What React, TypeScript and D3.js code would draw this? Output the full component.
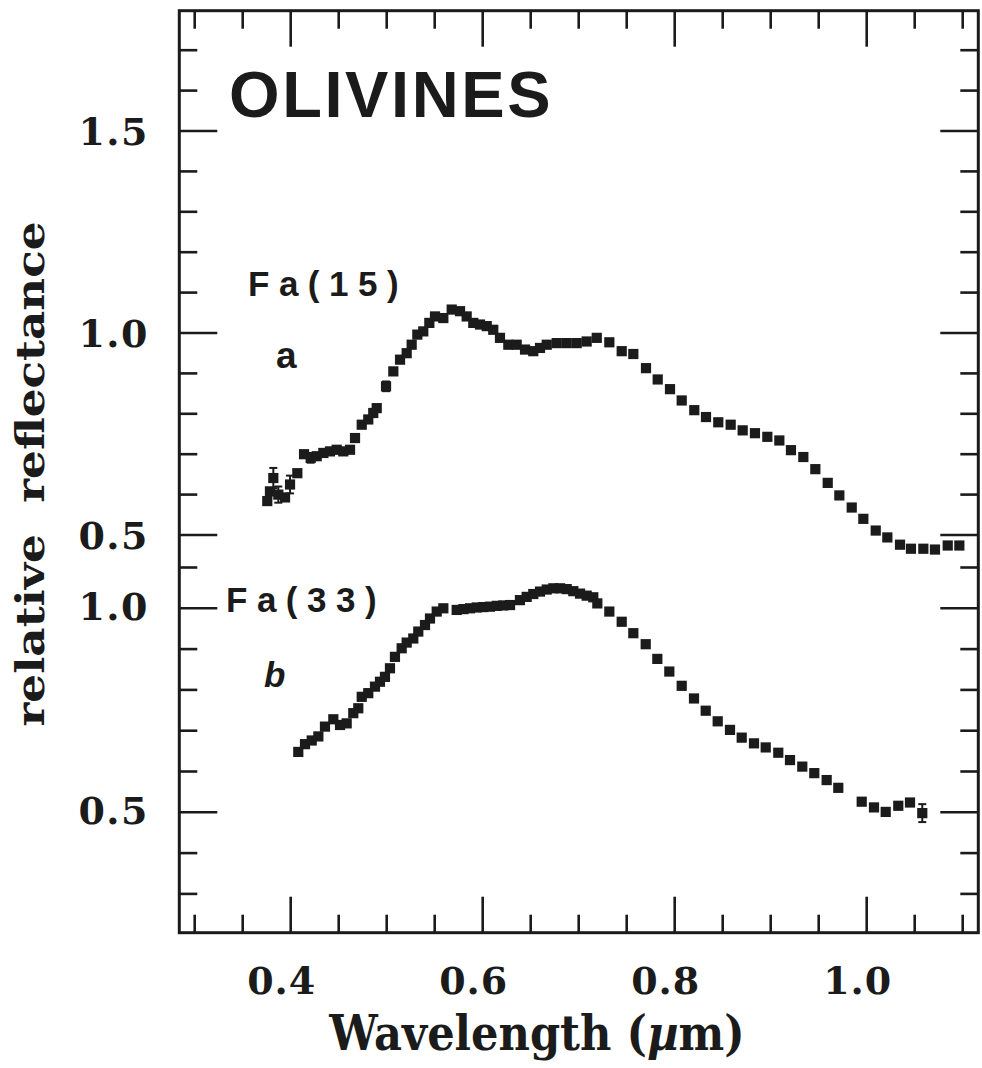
import React from "react";
import * as d3 from "d3";

// ---- Data ----
const fa15Wavelength = [
  0.3756, 0.3784, 0.3819, 0.3871, 0.3941, 0.3993, 0.4069, 0.4139, 0.4208, 0.4271,
  0.434, 0.4409, 0.4479, 0.4548, 0.4618, 0.467, 0.474, 0.4808, 0.486, 0.4896,
  0.4993, 0.5069, 0.5139, 0.5208, 0.526, 0.5319, 0.5381, 0.5444, 0.5503, 0.559,
  0.5677, 0.5764, 0.5833, 0.5902, 0.5972, 0.6042, 0.611, 0.618, 0.6267, 0.6354,
  0.6441, 0.6527, 0.6597, 0.6667, 0.6771, 0.6875, 0.6979, 0.7083, 0.7188, 0.7319,
  0.7448, 0.7569, 0.7701, 0.7823, 0.7951, 0.8073, 0.8204, 0.8326, 0.8454, 0.8583,
  0.8708, 0.8836, 0.8965, 0.909, 0.9211, 0.934, 0.9465, 0.9594, 0.9715, 0.9844,
  0.9965, 1.0094, 1.0215, 1.0347, 1.0461, 1.059, 1.0711, 1.0844, 1.0965,
];
const fa15Reflectance = [
  0.584, 0.608, 0.641, 0.6, 0.593, 0.625, 0.653, 0.7, 0.691, 0.695,
  0.703, 0.707, 0.711, 0.707, 0.711, 0.74, 0.773, 0.786, 0.802, 0.814,
  0.868, 0.905, 0.934, 0.95, 0.971, 0.996, 1.004, 1.025, 1.041, 1.037,
  1.058, 1.054, 1.041, 1.025, 1.021, 1.017, 1.008, 0.988, 0.971, 0.971,
  0.959, 0.955, 0.963, 0.971, 0.975, 0.975, 0.975, 0.979, 0.988, 0.977,
  0.955, 0.948, 0.913, 0.885, 0.861, 0.833, 0.809, 0.792, 0.779, 0.773,
  0.759, 0.752, 0.743, 0.734, 0.71, 0.693, 0.663, 0.629, 0.598, 0.568,
  0.54, 0.511, 0.494, 0.476, 0.466, 0.466, 0.464, 0.474, 0.474,
];
// error-bar half-lengths (only a few points carry visible bars)
const fa15ErrWavelength = [0.3819, 0.3871, 0.3993, 0.4208, 0.434, 0.486, 0.4993];
const fa15ErrValue = [0.641, 0.6, 0.625, 0.691, 0.703, 0.802, 0.868];
const fa15ErrSize = [0.025, 0.02, 0.022, 0.012, 0.01, 0.01, 0.012];

const fa33Wavelength = [
  0.4079, 0.4149, 0.4219, 0.4288, 0.4357, 0.4444, 0.4514, 0.4583, 0.4652, 0.4704,
  0.474, 0.4808, 0.4878, 0.493, 0.4982, 0.5034, 0.5086, 0.5156, 0.5208, 0.5277,
  0.5329, 0.5399, 0.5451, 0.5521, 0.559, 0.5729, 0.5799, 0.5868, 0.5938, 0.6007,
  0.6076, 0.6146, 0.6215, 0.6285, 0.6388, 0.6458, 0.6527, 0.6597, 0.6667, 0.6736,
  0.6806, 0.6875, 0.6944, 0.7014, 0.7083, 0.7152, 0.7194, 0.7319, 0.7448, 0.7569,
  0.7698, 0.7819, 0.7944, 0.8073, 0.8201, 0.8323, 0.8448, 0.8576, 0.8698, 0.8826,
  0.8948, 0.9079, 0.9201, 0.9329, 0.9454, 0.9583, 0.9704, 0.9948, 1.0076, 1.0198,
  1.0329, 1.0451, 1.0579,
];
const fa33Reflectance = [
  0.648, 0.667, 0.676, 0.686, 0.71, 0.728, 0.714, 0.718, 0.743, 0.755,
  0.783, 0.792, 0.808, 0.82, 0.832, 0.853, 0.881, 0.902, 0.916, 0.926,
  0.943, 0.959, 0.975, 0.992, 1.0, 0.996, 0.998, 1.0, 1.002, 1.003,
  1.004, 1.006, 1.007, 1.008, 1.02, 1.028, 1.035, 1.041, 1.046, 1.049,
  1.049, 1.047, 1.042, 1.036, 1.031, 1.027, 1.012, 0.992, 0.967, 0.939,
  0.912, 0.876, 0.845, 0.81, 0.779, 0.749, 0.723, 0.702, 0.683, 0.669,
  0.659, 0.646, 0.628, 0.612, 0.596, 0.579, 0.56, 0.526, 0.512, 0.501,
  0.516, 0.524, 0.498,
];
const fa33ErrWavelength = [1.0579];
const fa33ErrValue = [0.498];
const fa33ErrSize = [0.022];

const xMajorTicks = [0.4, 0.6, 0.8, 1.0];
const xMinorTicks = [0.3, 0.35, 0.45, 0.5, 0.55, 0.65, 0.7, 0.75, 0.85, 0.9, 0.95, 1.05, 1.1];
const xTickLabels = ["0.4", "0.6", "0.8", "1.0"];

const upperMajorTicks = [0.5, 1.0, 1.5];
const upperMinorTicks = [0.6, 0.7, 0.8, 0.9, 1.1, 1.2, 1.3, 1.4, 1.6, 1.7];
const upperTickLabels = ["0.5", "1.0", "1.5"];
const lowerMajorTicks = [0.5, 1.0];
const lowerMinorTicks = [0.3, 0.4, 0.6, 0.7, 0.8, 0.9, 1.1];
const lowerTickLabels = ["0.5", "1.0"];

const titleText = "OLIVINES";
const seriesNames = ["Fa(15)", "Fa(33)"];
const seriesLetters = ["a", "b"];
const xTitleParts = ["Wavelength (", "µ", "m)"];
const yTitle = "relative  reflectance";

// ---- Layout ----
const W = 982;
const H = 1068;
const frame = { left: 179.3, right: 978.3, top: 10.7, bottom: 932.7 };
const INK = "#1b1b1b";
const serif = "'DejaVu Serif', 'Liberation Serif', serif";
const sans = "'Liberation Sans', Arial, Helvetica, sans-serif";

export default function App() {
  const x = d3.scaleLinear().domain([0.4, 1.0]).range([290.7, 866.7]);
  const yU = d3.scaleLinear().domain([0.5, 1.5]).range([535, 131]);
  const yL = d3.scaleLinear().domain([0.5, 1.0]).range([812.3, 608.3]);

  const MAJ = 36;
  const MIN = 18;
  const sq = 10.2;

  const xTickEls: React.ReactNode[] = [];
  xMajorTicks.forEach((t, i) => {
    const px = x(t);
    xTickEls.push(<line key={"xbM" + i} x1={px} x2={px} y1={frame.bottom} y2={frame.bottom - MAJ} />);
    xTickEls.push(<line key={"xtM" + i} x1={px} x2={px} y1={frame.top} y2={frame.top + MAJ} />);
  });
  xMinorTicks.forEach((t, i) => {
    const px = x(t);
    xTickEls.push(<line key={"xbm" + i} x1={px} x2={px} y1={frame.bottom} y2={frame.bottom - MIN} />);
    xTickEls.push(<line key={"xtm" + i} x1={px} x2={px} y1={frame.top} y2={frame.top + MIN} />);
  });

  const yTickEls: React.ReactNode[] = [];
  const addY = (py: number, len: number, key: string) => {
    yTickEls.push(<line key={"l" + key} x1={frame.left} x2={frame.left + len} y1={py} y2={py} />);
    yTickEls.push(<line key={"r" + key} x1={frame.right} x2={frame.right - len} y1={py} y2={py} />);
  };
  upperMajorTicks.forEach((t, i) => addY(yU(t), MAJ + 2, "uM" + i));
  upperMinorTicks.forEach((t, i) => addY(yU(t), MIN, "um" + i));
  lowerMajorTicks.forEach((t, i) => addY(yL(t), MAJ + 2, "lM" + i));
  lowerMinorTicks.forEach((t, i) => addY(yL(t), MIN, "lm" + i));

  const markers = (ws: number[], vs: number[], y: d3.ScaleLinear<number, number>, key: string) =>
    ws.map((w, i) => (
      <rect
        key={key + i}
        x={x(w) - sq / 2}
        y={y(vs[i]) - sq / 2}
        width={sq}
        height={sq}
        fill={INK}
      />
    ));

  const errbars = (ws: number[], vs: number[], es: number[], y: d3.ScaleLinear<number, number>, key: string) =>
    ws.map((w, i) => {
      const px = x(w);
      const y1 = y(vs[i] + es[i]);
      const y2 = y(vs[i] - es[i]);
      return (
        <g key={key + i} stroke={INK} strokeWidth={2}>
          <line x1={px} x2={px} y1={y1} y2={y2} />
          <line x1={px - 4} x2={px + 4} y1={y1} y2={y1} />
          <line x1={px - 4} x2={px + 4} y1={y2} y2={y2} />
        </g>
      );
    });

  const yLabelX = 149;
  const yLabelFont = 38;

  return (
    <svg
      width={W}
      height={H}
      viewBox={`0 0 ${W} ${H}`}
      style={{ position: "absolute", left: 0, top: 0, background: "#ffffff" }}
    >
      <rect x={0} y={0} width={W} height={H} fill="#ffffff" />
      {/* frame */}
      <rect
        x={frame.left}
        y={frame.top}
        width={frame.right - frame.left}
        height={frame.bottom - frame.top}
        fill="none"
        stroke={INK}
        strokeWidth={3}
      />
      <g stroke={INK} strokeWidth={2.6}>
        {xTickEls}
        {yTickEls}
      </g>

      {/* data */}
      {errbars(fa15ErrWavelength, fa15ErrValue, fa15ErrSize, yU, "e15")}
      {errbars(fa33ErrWavelength, fa33ErrValue, fa33ErrSize, yL, "e33")}
      {markers(fa15Wavelength, fa15Reflectance, yU, "p15")}
      {markers(fa33Wavelength, fa33Reflectance, yL, "p33")}

      {/* x tick labels */}
      <g fontFamily={serif} fontWeight="bold" fontSize={38} fill={INK} textAnchor="middle" letterSpacing={1}>
        {xMajorTicks.map((t, i) => (
          <text key={"xl" + i} x={x(t) - 9} y={994}>
            {xTickLabels[i]}
          </text>
        ))}
      </g>
      {/* y tick labels */}
      <g fontFamily={serif} fontWeight="bold" fontSize={yLabelFont} fill={INK} textAnchor="end" letterSpacing={1.5}>
        {upperMajorTicks.map((t, i) => (
          <text key={"yu" + i} x={yLabelX} y={yU(t)} dominantBaseline="central">
            {upperTickLabels[i]}
          </text>
        ))}
        {lowerMajorTicks.map((t, i) => (
          <text key={"yl" + i} x={yLabelX} y={yL(t) - 2} dominantBaseline="central">
            {lowerTickLabels[i]}
          </text>
        ))}
      </g>

      {/* axis titles */}
      <text
        transform="translate(537,1050) scale(0.9,1)"
        fontFamily={serif}
        fontWeight="bold"
        fontSize={48}
        fill={INK}
        textAnchor="middle"
      >
        {xTitleParts[0]}
        <tspan fontStyle="italic">{xTitleParts[1]}</tspan>
        {xTitleParts[2]}
      </text>
      <text
        transform="translate(44,474) rotate(-90)"
        fontFamily={serif}
        fontWeight="bold"
        fontSize={40}
        fill={INK}
        textAnchor="middle"
        textLength={505}
        lengthAdjust="spacingAndGlyphs"
        style={{ whiteSpace: "pre" }}
      >
        {yTitle}
      </text>

      {/* annotations */}
      <text x={229} y={117} fontFamily={sans} fontWeight="bold" fontSize={65} fill={INK} letterSpacing={2.6}>
        {titleText}
      </text>
      <text x={248} y={296} fontFamily={sans} fontWeight="bold" fontSize={35} fill={INK} letterSpacing={9.5}>
        {seriesNames[0]}
      </text>
      <text x={276} y={368} fontFamily={sans} fontWeight="bold" fontSize={37} fill={INK}>
        {seriesLetters[0]}
      </text>
      <text x={226} y={612} fontFamily={sans} fontWeight="bold" fontSize={35} fill={INK} letterSpacing={9.5}>
        {seriesNames[1]}
      </text>
      <text x={264} y={687} fontFamily={sans} fontWeight="bold" fontStyle="italic" fontSize={35} fill={INK}>
        {seriesLetters[1]}
      </text>
    </svg>
  );
}
